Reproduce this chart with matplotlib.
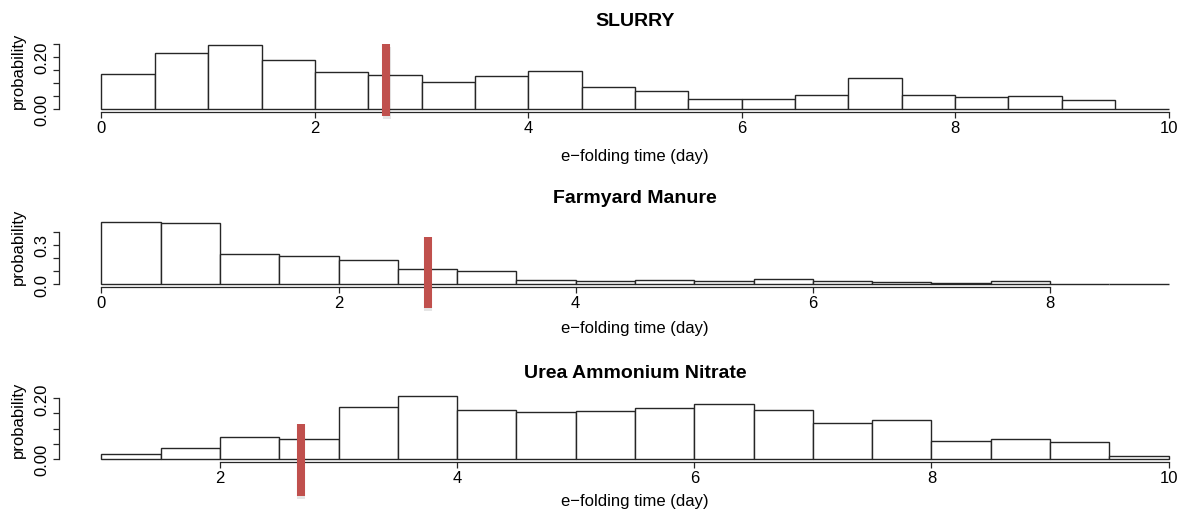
import numpy as np
import matplotlib
matplotlib.use('Agg')
import matplotlib.pyplot as plt
import matplotlib.patheffects as pe

plt.rcParams['font.family'] = ['Liberation Sans', 'DejaVu Sans']

# histogram densities (bin width 0.5 day)
slurry_edges = [0.0, 0.5, 1.0, 1.5, 2.0, 2.5, 3.0, 3.5, 4.0, 4.5, 5.0,
                5.5, 6.0, 6.5, 7.0, 7.5, 8.0, 8.5, 9.0, 9.5, 10.0]
slurry_dens = [0.136, 0.215, 0.246, 0.186, 0.142, 0.131, 0.103, 0.128, 0.145, 0.085,
               0.069, 0.037, 0.037, 0.053, 0.117, 0.055, 0.045, 0.051, 0.033, 0.0]

farm_edges = [0.0, 0.5, 1.0, 1.5, 2.0, 2.5, 3.0, 3.5, 4.0, 4.5,
              5.0, 5.5, 6.0, 6.5, 7.0, 7.5, 8.0, 8.5, 9.0]
farm_dens = [0.475, 0.463, 0.227, 0.217, 0.184, 0.120, 0.105, 0.030, 0.023,
             0.030, 0.023, 0.038, 0.023, 0.015, 0.0075, 0.023, 0.0, 0.0]

uan_edges = [1.0, 1.5, 2.0, 2.5, 3.0, 3.5, 4.0, 4.5, 5.0, 5.5,
             6.0, 6.5, 7.0, 7.5, 8.0, 8.5, 9.0, 9.5, 10.0]
uan_dens = [0.015, 0.036, 0.073, 0.067, 0.173, 0.207, 0.163, 0.154, 0.157,
            0.167, 0.180, 0.161, 0.118, 0.130, 0.059, 0.066, 0.056, 0.009]

titles = ['SLURRY', 'Farmyard Manure', 'Urea Ammonium Nitrate']
marker_x = [2.67, 2.75, 2.68]          # red line position (day)
x_ticks = [[0, 2, 4, 6, 8, 10], [0, 2, 4, 6, 8], [2, 4, 6, 8, 10]]
y_ticks = [[0.0, 0.05, 0.10, 0.15, 0.20, 0.25],
           [0.0, 0.1, 0.2, 0.3, 0.4],
           [0.0, 0.05, 0.10, 0.15, 0.20]]
y_labels = [['0.00', '', '', '', '0.20', ''],
            ['0.0', '', '', '0.3', ''],
            ['0.00', '', '', '', '0.20']]

# layout in pixels (from top of the figure)
W, H = 1181, 510
L, R = 58.8, 1211.2
ax_top = [43.2, 220.4, 394.7]
ax_bot = [112.6, 287.8, 462.5]
red_lo = [-0.028, -0.179, -0.122]
red_hi = [0.249, 0.362, 0.116]
title_base = [26, 203, 378]
xlab_base = [161, 333, 506]
ylab_mid = [71, 247, 420]

edges_all = [slurry_edges, farm_edges, uan_edges]
dens_all = [slurry_dens, farm_dens, uan_dens]

ink = '#262626'
fig = plt.figure(figsize=(W / 100, H / 100), dpi=100)

for i in range(3):
    edges = np.array(edges_all[i])
    dens = np.array(dens_all[i])
    ax = fig.add_axes([L / W, 1 - ax_bot[i] / H, (R - L) / W, (ax_bot[i] - ax_top[i]) / H])

    ax.bar(edges[:-1], dens, width=np.diff(edges), align='edge',
           color='white', edgecolor=ink, linewidth=1.0)

    # R style 4% padding
    xr = edges[-1] - edges[0]
    ax.set_xlim(edges[0] - 0.04 * xr, edges[-1] + 0.04 * xr)
    ymax = dens.max()
    ax.set_ylim(-0.04 * ymax, 1.04 * ymax)

    ax.spines['top'].set_visible(False)
    ax.spines['right'].set_visible(False)
    for s in ['left', 'bottom']:
        ax.spines[s].set_color(ink)
        ax.spines[s].set_linewidth(0.9)
    ax.set_xticks(x_ticks[i])
    ax.set_xticklabels([str(t) for t in x_ticks[i]])
    ax.set_yticks(y_ticks[i])
    ax.set_yticklabels(y_labels[i])
    ax.spines['bottom'].set_bounds(x_ticks[i][0], x_ticks[i][-1])
    ax.spines['left'].set_bounds(y_ticks[i][0], y_ticks[i][-1])
    ax.tick_params(direction='out', length=4, width=0.9, color=ink,
                   labelsize=12, labelcolor='black')
    ax.tick_params(axis='x', pad=2)
    ax.tick_params(axis='y', labelrotation=90, pad=3)
    for lab in ax.get_yticklabels():
        lab.set_va('center')

    # red marker line
    ax.plot([marker_x[i], marker_x[i]], [red_lo[i], red_hi[i]], color='#c0504d',
            lw=5.8, solid_capstyle='butt', clip_on=False, zorder=5,
            path_effects=[pe.SimpleLineShadow(offset=(0.3, -2.0), shadow_color='k', alpha=0.1),
                          pe.Normal()])

    cx = (L + R) / 2 / W
    fig.text(cx, 1 - title_base[i] / H, titles[i], ha='center', va='baseline',
             fontsize=14, fontweight='bold')
    fig.text(cx, 1 - xlab_base[i] / H, 'e\u2212folding time (day)', ha='center',
             va='baseline', fontsize=12)
    fig.text(18.3 / W, 1 - ylab_mid[i] / H, 'probability', rotation=90,
             ha='center', va='center', fontsize=12)

fig.savefig('out.png', dpi=100, facecolor='white')
